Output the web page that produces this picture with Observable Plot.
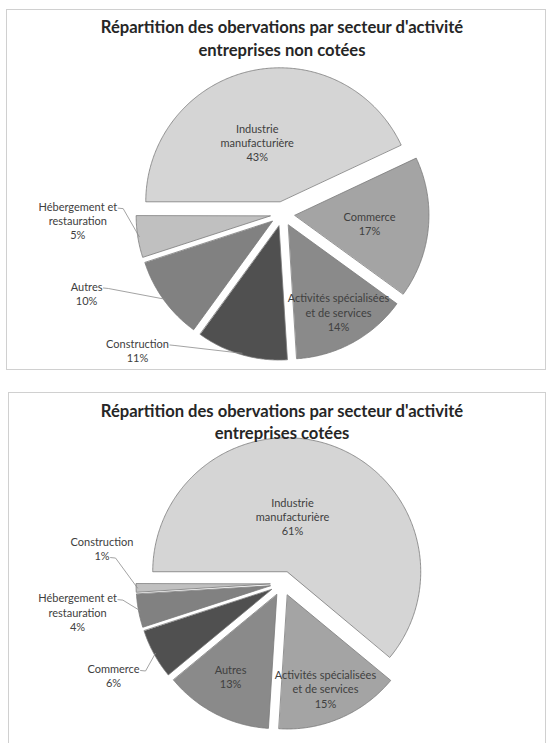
<!DOCTYPE html>
<html><head><meta charset="utf-8">
<script src="https://cdn.jsdelivr.net/npm/d3@7"></script>
<script src="https://cdn.jsdelivr.net/npm/@observablehq/plot@0.6"></script>
<style>
body{margin:0;background:#fff;}
#page{position:relative;width:547px;height:743px;overflow:hidden;font-family:Lato,sans-serif;}
.box{position:absolute;border:1px solid #d0d0d0;box-sizing:border-box;}
.title{position:absolute;left:0;width:564px;text-align:center;font-weight:bold;font-size:16.6px;color:#262626;line-height:22.5px;white-space:pre;}
.chart{position:absolute;left:0;}
</style></head><body><div id="page"></div>
<script>
// ---- data ----
const titleMain = "Répartition des obervations par secteur d'activité";
const subtitle1 = "entreprises non cotées";
const subtitle2 = "entreprises cotées";

const categories1 = ["Industrie manufacturière","Commerce","Activités spécialisées et de services","Construction","Autres","Hébergement et restauration"];
const values1 = [43, 17, 14, 11, 10, 5];

const categories2 = ["Industrie manufacturière","Activités spécialisées et de services","Autres","Commerce","Hébergement et restauration","Construction"];
const values2 = [61, 15, 13, 6, 4, 1];

const labelLines = {
  "Industrie manufacturière": "Industrie\nmanufacturière",
  "Commerce": "Commerce",
  "Activités spécialisées et de services": "Activités spécialisées\net de services",
  "Construction": "Construction",
  "Autres": "Autres",
  "Hébergement et restauration": "Hébergement et\nrestauration"
};

// ---- layout / style ----
const grays = ["#d5d5d5", "#a4a4a4", "#8a8a8a", "#505050", "#818181", "#c0c0c0"];
const R = 134;          // pixels per unit radius
const EXPLODE = 12.5 / R;
const W = 547;
// label placement (radius px from pie centre, angle deg clockwise from 12 o'clock)
const place1 = [[75.8,340.5],[87.5,96.2],[113,150.3],[198.9,226.8],[211.3,248.0],[204.8,268.2]];
const outside1 = [false,false,false,true,true,true];
const leaderLast1 = [false,false,false,false,false,false];
const place2 = [[67.7,8.5],[113.7,157.8],[106.5,209.2],[192.5,241.4],[206.9,262.1],[183.9,281.0]];
const outside2 = [false,false,false,true,true,true];
const leaderLast2 = [false,false,false,false,false,true];

const FONT = 11, LH = 1.3;
const ctx = document.createElement("canvas").getContext("2d");
ctx.font = `${FONT}px Lato`;

function pieChart(cats, vals, place, outside, leaderLast, H, cx, cy) {
  const arcs = d3.pie().sort(null).startAngle(-Math.PI/2).endAngle(1.5*Math.PI)(vals);
  const slicePts = [];
  const labels = [];
  const leaders = [];
  arcs.forEach((a, i) => {
    const m = (a.startAngle + a.endAngle) / 2;
    const ox = EXPLODE * Math.sin(m), oy = EXPLODE * Math.cos(m);
    const name = cats[i];
    slicePts.push({name, x: ox, y: oy});
    const n = Math.max(2, Math.ceil((a.endAngle - a.startAngle) / 0.01));
    for (let k = 0; k <= n; k++) {
      const t = a.startAngle + (a.endAngle - a.startAngle) * k / n;
      slicePts.push({name, x: ox + Math.sin(t), y: oy + Math.cos(t)});
    }
    const [rho, deg] = place[i];
    const th = deg * Math.PI / 180;
    const lx = rho / R * Math.sin(th), ly = rho / R * Math.cos(th);
    const text = `${labelLines[name]}\n${vals[i]}%`;
    labels.push({x: lx, y: ly, text});
    if (outside[i]) {
      const lines = text.split("\n");
      const li = leaderLast[i] ? lines.length - 1 : 0;
      const w = ctx.measureText(lines[li]).width;
      const yLine = ly + (((lines.length - 1) / 2 - li) * FONT * LH - 2) / R;
      const x0 = lx + (w / 2 + 1) / R;
      const tx = (1 + EXPLODE) * Math.sin(m) * 0.99, ty = (1 + EXPLODE) * Math.cos(m) * 0.99;
      leaders.push({id: i, x: x0, y: yLine});
      leaders.push({id: i, x: x0 + 5 / R, y: yLine - 0.5 / R});
      leaders.push({id: i, x: tx, y: ty});
    }
  });
  return Plot.plot({
    width: W, height: H,
    marginTop: 0, marginRight: 0, marginBottom: 0, marginLeft: 0,
    style: {background: "transparent", fontFamily: "Lato"},
    x: {domain: [-cx / R, (W - cx) / R], axis: null},
    y: {domain: [-(H - cy) / R, cy / R], axis: null},
    color: {domain: cats, range: grays},
    marks: [
      Plot.line(slicePts, {x: "x", y: "y", z: "name", fill: "name", stroke: "#7a7a7a", strokeWidth: 0.8, curve: "linear-closed"}),
      Plot.line(leaders, {x: "x", y: "y", z: "id", stroke: "#8c8c8c", strokeWidth: 0.8}),
      Plot.text(labels, {x: "x", y: "y", text: "text", fill: "#404040", fontSize: FONT, lineHeight: LH})
    ]
  });
}

const page = document.getElementById("page");
function add(el, cls, css) { el.className = cls; Object.assign(el.style, css); page.appendChild(el); return el; }

const c1 = pieChart(categories1, values1, place1, outside1, leaderLast1, 370, 282, 213.5);
add(c1, "chart", {top: "0px"});
const c2 = pieChart(categories2, values2, place2, outside2, leaderLast2, 364, 282, 213);
add(c2, "chart", {top: "379px"});

add(document.createElement("div"), "box", {left: "6px", top: "9px", width: "540px", height: "361px"});
add(document.createElement("div"), "box", {left: "8px", top: "392px", width: "538px", height: "400px"});

const t1 = add(document.createElement("div"), "title", {top: "16px"});
t1.textContent = titleMain + "\n" + subtitle1;
const t2 = add(document.createElement("div"), "title", {top: "399.5px"});
t2.textContent = titleMain + "\n" + subtitle2;
</script>
</body></html>
